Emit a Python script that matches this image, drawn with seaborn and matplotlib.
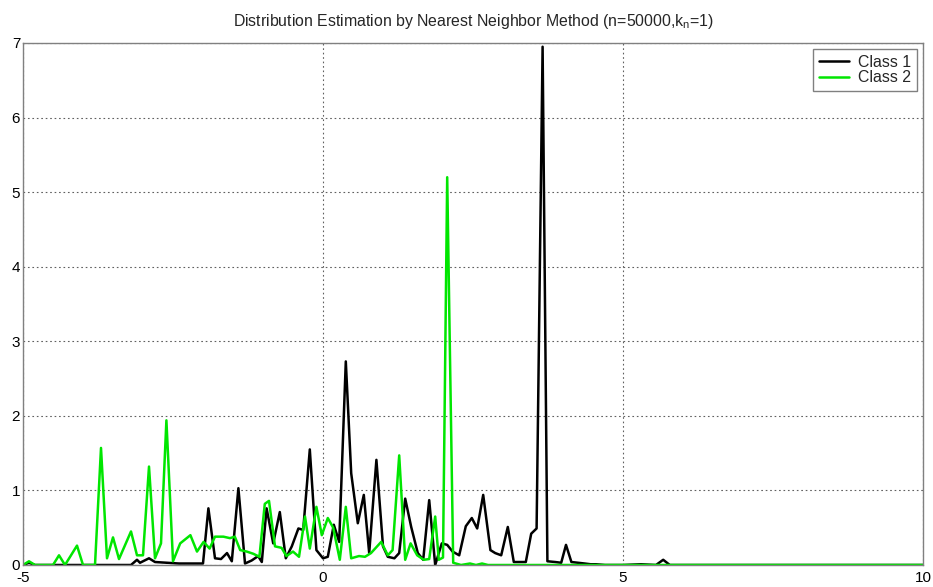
import matplotlib
matplotlib.use("Agg")
import matplotlib.pyplot as plt
import seaborn as sns
import pandas as pd

# ---- data ----
class1_x = [-5.0, -4.9, -4.8, -3.2, -3.1, -3.05, -2.9, -2.8, -2.6, -2.4, -2.0,
            -1.91, -1.8, -1.7, -1.6, -1.52, -1.41, -1.3, -1.19, -1.08, -1.02,
            -0.94, -0.83, -0.72, -0.62, -0.52, -0.41, -0.33, -0.22, -0.11, 0.0,
            0.08, 0.18, 0.27, 0.38, 0.47, 0.58, 0.68, 0.77, 0.89, 1.0, 1.08,
            1.19, 1.27, 1.37, 1.47, 1.58, 1.67, 1.77, 1.87, 1.98, 2.07, 2.16,
            2.27, 2.38, 2.48, 2.57, 2.67, 2.79, 2.87, 2.97, 3.08, 3.18, 3.38,
            3.47, 3.56, 3.66, 3.74, 3.87, 3.97, 4.05, 4.14, 4.25, 4.36, 4.46,
            4.55, 4.7, 5.0, 5.3, 5.55, 5.67, 5.78, 10.0]
class1_y = [0.0, 0.03, 0.0, 0.0, 0.07, 0.03, 0.09, 0.04, 0.03, 0.02, 0.02,
            0.76, 0.09, 0.08, 0.16, 0.05, 1.03, 0.02, 0.06, 0.12, 0.04,
            0.76, 0.29, 0.71, 0.09, 0.25, 0.49, 0.47, 1.55, 0.2, 0.09,
            0.11, 0.54, 0.31, 2.73, 1.23, 0.56, 0.94, 0.16, 1.41, 0.25, 0.11,
            0.09, 0.16, 0.89, 0.51, 0.16, 0.07, 0.87, 0.0, 0.29, 0.27, 0.18,
            0.13, 0.52, 0.63, 0.49, 0.94, 0.2, 0.16, 0.13, 0.51, 0.04, 0.04,
            0.42, 0.49, 6.95, 0.05, 0.04, 0.03, 0.27, 0.04, 0.03, 0.02, 0.01,
            0.01, 0.0, 0.0, 0.01, 0.0, 0.07, 0.0, 0.0]

class2_x = [-5.0, -4.9, -4.8, -4.5, -4.4, -4.3, -4.1, -4.0, -3.8, -3.7, -3.6,
            -3.5, -3.4, -3.2, -3.1, -3.0, -2.9, -2.8, -2.7, -2.61, -2.5, -2.38,
            -2.21, -2.1, -1.99, -1.89, -1.8, -1.66, -1.55, -1.47, -1.38, -1.27,
            -1.16, -1.06, -0.97, -0.9, -0.8, -0.69, -0.61, -0.5, -0.4, -0.3,
            -0.22, -0.11, -0.02, 0.08, 0.17, 0.28, 0.38, 0.47, 0.6, 0.7, 0.8,
            0.97, 1.08, 1.16, 1.27, 1.37, 1.46, 1.57, 1.68, 1.77, 1.87, 1.93,
            2.0, 2.07, 2.17, 2.3, 2.45, 2.55, 2.65, 2.75, 10.0]
class2_y = [0.0, 0.05, 0.0, 0.0, 0.13, 0.0, 0.26, 0.0, 0.0, 1.57, 0.09,
            0.37, 0.08, 0.45, 0.13, 0.13, 1.32, 0.09, 0.29, 1.94, 0.05, 0.29,
            0.40, 0.18, 0.31, 0.22, 0.38, 0.38, 0.36, 0.38, 0.2, 0.18,
            0.15, 0.11, 0.82, 0.86, 0.25, 0.23, 0.12, 0.18, 0.11, 0.65,
            0.22, 0.78, 0.4, 0.63, 0.5, 0.07, 0.78, 0.09, 0.12, 0.11, 0.16,
            0.31, 0.13, 0.2, 1.47, 0.07, 0.29, 0.13, 0.07, 0.08, 0.65, 0.07,
            0.1, 5.2, 0.03, 0.0, 0.02, 0.0, 0.02, 0.0, 0.0]

x_ticks = [-5, 0, 5, 10]
y_ticks = [0, 1, 2, 3, 4, 5, 6, 7]
title = "Distribution Estimation by Nearest Neighbor Method (n=50000,k$_n$=1)"

sns.set_style("white")
plt.rcParams['font.family'] = ['Liberation Sans', 'DejaVu Sans']
plt.rcParams['mathtext.fontset'] = 'custom'
plt.rcParams['mathtext.rm'] = 'Liberation Sans'
plt.rcParams['mathtext.it'] = 'Liberation Sans'

fig = plt.figure(figsize=(9.33, 5.87), dpi=100)
ax = fig.add_axes([23/933, 22/587, 900/933, 522/587])

sns.lineplot(x=class1_x, y=class1_y, ax=ax, color="black", lw=1.8,
             label="Class 1", estimator=None, sort=False)
sns.lineplot(x=class2_x, y=class2_y, ax=ax, color="#00e600", lw=1.8,
             label="Class 2", estimator=None, sort=False)

ax.set_xlim(-5, 10)
ax.set_ylim(0, 7)
ax.set_xticks(x_ticks)
ax.set_yticks(y_ticks)
ax.set_xticklabels([str(t) for t in x_ticks], fontsize=11)
ax.set_yticklabels([str(t) for t in y_ticks], fontsize=11)
ax.grid(True, linestyle=(0, (1.5, 2.5)), color="#606060", lw=0.8)
for s in ax.spines.values():
    s.set_color("#808080")
    s.set_linewidth(1.0)
ax.tick_params(axis='both', direction='in', length=4, color="#606060",
               labelcolor="black")
ax.tick_params(axis='x', pad=4)
ax.tick_params(axis='y', pad=2)
ax.set_title(title, fontsize=11.4, pad=12)

leg = ax.legend(loc="upper right", fontsize=11.4, frameon=True, fancybox=False,
                borderpad=0.35, handlelength=1.9, handletextpad=0.6,
                labelspacing=0.05, borderaxespad=0.38)
leg.get_frame().set_edgecolor("#606060")
leg.get_frame().set_linewidth(1.0)

fig.savefig("out.png", dpi=100, facecolor="white")
